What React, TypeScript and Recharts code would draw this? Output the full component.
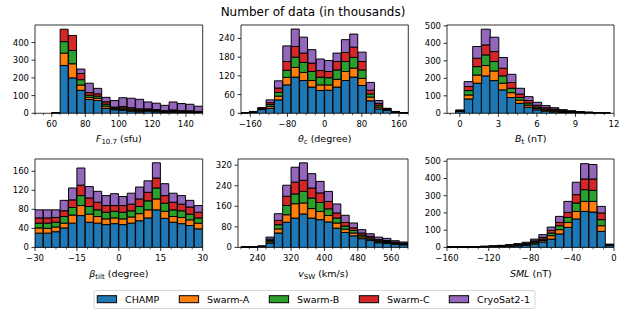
import { Bar, BarChart, ReferenceArea, XAxis, YAxis } from 'recharts'

const FONT = 'DejaVu Sans, sans-serif'

const seriesNames = ['CHAMP', 'Swarm-A', 'Swarm-B', 'Swarm-C', 'CryoSat2-1']
const seriesKeys = ['champ', 'swa', 'swb', 'swc', 'cryo']
const seriesColors = ['#1f77b4', '#ff7f0e', '#2ca02c', '#d62728', '#9467bd']

// F10.7, bins of 5 sfu
const f107Bins = [52.5, 57.5, 62.5, 67.5, 72.5, 77.5, 82.5, 87.5, 92.5, 97.5, 102.5, 107.5, 112.5, 117.5, 122.5, 127.5, 132.5, 137.5, 142.5, 147.5]
const f107Champ = [0, 0, 1.5, 270, 200, 130, 78, 72, 28, 20, 18, 12, 8, 12, 8, 5, 6, 5, 4, 4]
const f107SwA = [0, 0, 0.4, 70, 80, 30, 12, 13, 12, 5, 6, 6, 5, 4, 4, 3, 4, 3, 3, 2]
const f107SwB = [0, 0, 0.4, 65, 75, 30, 12, 12, 12, 5, 6, 6, 5, 4, 4, 3, 4, 3, 3, 2]
const f107SwC = [0, 0, 0.4, 70, 85, 35, 15, 13, 13, 5, 8, 8, 7, 5, 5, 4, 5, 4, 4, 3]
const f107Cryo = [0, 0, 0.3, 0, 0, 25, 53, 31, 25, 37, 50, 53, 54, 39, 36, 30, 45, 40, 37, 29]

// theta_c, bins of 18 degree
const thetaBins = [-171, -153, -135, -117, -99, -81, -63, -45, -27, -9, 9, 27, 45, 63, 81, 99, 117, 135, 153, 171]
const thetaChamp = [0.5, 3, 12, 16, 43, 91, 116, 105, 84, 73, 74, 84, 105, 116, 89, 40, 14, 10, 3, 0.5]
const thetaSwA = [0.1, 0.8, 1.5, 6, 12, 24, 31, 26, 21, 18, 17, 25, 29, 29, 23, 12, 6, 1.5, 0.8, 0.1]
const thetaSwB = [0.1, 0.8, 1.5, 6, 12, 23, 33, 32, 29, 25, 23, 30, 32, 34, 27, 10, 6, 1.5, 0.8, 0.1]
const thetaSwC = [0.1, 0.8, 1.5, 6, 14, 28, 34, 30, 27, 21, 20, 27, 29, 33, 27, 12, 6, 1.5, 0.8, 0.1]
const thetaCryo = [0.1, 0.6, 1.5, 9, 23, 50, 56, 51, 43, 37, 35, 27, 41, 42, 30, 25, 9, 1.5, 0.6, 0.1]

// B_t, bins of 2/3 nT
const btBins = [0, 0.667, 1.333, 2, 2.667, 3.333, 4, 4.667, 5.333, 6, 6.667, 7.333, 8, 8.667, 9.333, 10, 10.667, 11.333]
const btChamp = [10, 82, 172, 214, 187, 134, 90, 57, 35, 20, 12, 8, 5, 3, 2, 1.5, 1, 0.6]
const btSwA = [2, 23, 47, 59, 55, 38, 28, 18, 12, 8, 6, 5, 3, 2, 2, 1, 0.7, 0.6]
const btSwB = [2, 25, 48, 61, 54, 42, 25, 15, 12, 8, 6, 5, 3, 2, 2, 1, 0.7, 0.6]
const btSwC = [2, 23, 48, 57, 57, 44, 33, 20, 14, 10, 8, 6, 4, 3, 2, 1.5, 0.8, 0.6]
const btCryo = [3, 28, 67, 90, 82, 61, 47, 33, 22, 17, 12, 8, 6, 5, 2, 2, 0.8, 0.6]

// beta_tilt, bins of 3 degree
const tiltBins = [-28.5, -25.5, -22.5, -19.5, -16.5, -13.5, -10.5, -7.5, -4.5, -1.5, 1.5, 4.5, 7.5, 10.5, 13.5, 16.5, 19.5, 22.5, 25.5, 28.5]
const tiltChamp = [30, 30, 33, 41, 51, 67, 53, 51, 48, 50, 48, 51, 56, 62, 79, 61, 53, 50, 46, 39]
const tiltSwA = [11, 10, 10, 10, 17, 21, 17, 14, 12, 12, 12, 13, 15, 17, 23, 15, 12, 13, 12, 12]
const tiltSwB = [10, 11, 10, 14, 16, 21, 16, 14, 14, 14, 14, 13, 15, 19, 23, 17, 14, 14, 12, 11]
const tiltSwC = [11, 11, 10, 12, 16, 22, 18, 16, 14, 12, 14, 14, 16, 18, 21, 16, 16, 14, 15, 12]
const tiltCryo = [17, 17, 16, 22, 25, 36, 24, 23, 21, 25, 19, 23, 25, 24, 32, 25, 19, 18, 14, 14]

// v_SW, bins of 20 km/s
const vswBins = [210, 230, 250, 270, 290, 310, 330, 350, 370, 390, 410, 430, 450, 470, 490, 510, 530, 550, 570, 590]
const vswChamp = [0.5, 0.5, 3, 17, 56, 98, 114, 130, 114, 108, 99, 75, 58, 45, 34, 27, 18, 15, 12, 10]
const vswSwA = [0.1, 0.1, 0.5, 5, 16, 29, 56, 43, 37, 32, 25, 20, 13, 11, 7, 5, 4, 4, 3, 2]
const vswSwB = [0.1, 0.1, 0.5, 5, 16, 36, 38, 45, 41, 35, 26, 19, 12, 10, 7, 5, 4, 4, 3, 2]
const vswSwC = [0.1, 0.1, 0.5, 5, 17, 36, 46, 43, 39, 37, 29, 20, 14, 10, 8, 6, 5, 4, 3, 3]
const vswCryo = [0.1, 0.1, 0.5, 8, 26, 43, 58, 68, 56, 45, 39, 35, 28, 19, 13, 10, 9, 8, 5, 4]

// SML, bins of 8 nT
const smlBins = [-156, -148, -140, -132, -124, -116, -108, -100, -92, -84, -76, -68, -60, -52, -44, -36, -28, -20, -12, -4]
const smlChamp = [1, 1.2, 1.6, 2, 3, 4, 5, 7, 9, 12, 20, 32, 48, 78, 116, 165, 209, 205, 93, 10]
const smlSwA = [0.2, 0.4, 0.5, 0.6, 0.8, 1, 1.5, 2, 3, 4, 6, 8, 20, 25, 29, 44, 58, 62, 33, 2]
const smlSwB = [0.2, 0.4, 0.5, 0.6, 0.8, 1, 1.5, 2, 3, 4, 6, 8, 15, 23, 29, 49, 68, 64, 35, 2]
const smlSwC = [0.3, 0.4, 0.6, 0.8, 1, 1.3, 1.5, 2, 3, 4, 6, 10, 16, 19, 29, 48, 62, 66, 39, 2]
const smlCryo = [0.3, 0.6, 0.8, 1, 1.4, 1.7, 2.5, 3, 4, 6, 10, 16, 19, 35, 64, 72, 89, 84, 38, 3]

// minor tick positions (matplotlib AutoMinorLocator style)
const steps = (lo: number, hi: number, step: number) => {
  const out: number[] = []
  for (let v = lo; v <= hi + 1e-9; v += step) out.push(Math.round(v * 1000) / 1000)
  return out
}

const fmt = (v: number) => (v < 0 ? '\u2212' + Math.abs(v) : String(v))

type Panel = {
  id: string
  bins: number[]
  values: number[][]
  xDomain: [number, number]
  xTicks: number[]
  minor: number[]
  yMax: number
  yTicks: number[]
  left: number
  right: number
  top: number
  bottom: number
  label: React.ReactNode
}

const TOP1 = 25
const BOT1 = 113.3
const TOP2 = 159.3
const BOT2 = 247.7

const panels: Panel[] = [
  {
    id: 'f107', bins: f107Bins, values: [f107Champ, f107SwA, f107SwB, f107SwC, f107Cryo],
    xDomain: [50, 150], xTicks: [60, 80, 100, 120, 140], minor: steps(50, 150, 5),
    yMax: 499, yTicks: [0, 100, 200, 300, 400],
    left: 35, right: 202.7, top: TOP1, bottom: BOT1,
    label: (<><tspan fontStyle="italic">F</tspan><tspan dy={2} fontSize={7}>10.7</tspan><tspan dy={-2}> (sfu)</tspan></>),
  },
  {
    id: 'theta', bins: thetaBins, values: [thetaChamp, thetaSwA, thetaSwB, thetaSwC, thetaCryo],
    xDomain: [-180, 180], xTicks: [-160, -80, 0, 80, 160], minor: steps(-180, 180, 20),
    yMax: 283, yTicks: [0, 60, 120, 180, 240],
    left: 241, right: 408.3, top: TOP1, bottom: BOT1,
    label: (<><tspan fontStyle="italic">θ</tspan><tspan dy={2} fontSize={7}>c</tspan><tspan dy={-2}> (degree)</tspan></>),
  },
  {
    id: 'bt', bins: btBins, values: [btChamp, btSwA, btSwB, btSwC, btCryo],
    xDomain: [-1, 12], xTicks: [0, 3, 6, 9, 12], minor: steps(-0.75, 12, 0.75),
    yMax: 505, yTicks: [0, 100, 200, 300, 400, 500],
    left: 447.3, right: 614.3, top: TOP1, bottom: BOT1,
    label: (<><tspan fontStyle="italic">B</tspan><tspan dy={2} fontSize={7}>t</tspan><tspan dy={-2}> (nT)</tspan></>),
  },
  {
    id: 'tilt', bins: tiltBins, values: [tiltChamp, tiltSwA, tiltSwB, tiltSwC, tiltCryo],
    xDomain: [-30, 30], xTicks: [-30, -15, 0, 15, 30], minor: steps(-30, 30, 3.75),
    yMax: 186, yTicks: [0, 40, 80, 120, 160],
    left: 35, right: 202.7, top: TOP2, bottom: BOT2,
    label: (<><tspan fontStyle="italic">β</tspan><tspan dy={2} fontSize={7}>tilt</tspan><tspan dy={-2}> (degree)</tspan></>),
  },
  {
    id: 'vsw', bins: vswBins, values: [vswChamp, vswSwA, vswSwB, vswSwC, vswCryo],
    xDomain: [193, 600], xTicks: [240, 320, 400, 480, 560], minor: steps(200, 600, 20),
    yMax: 344, yTicks: [0, 80, 160, 240, 320],
    left: 238.3, right: 408.3, top: TOP2, bottom: BOT2,
    label: (<><tspan fontStyle="italic">v</tspan><tspan dy={2} fontSize={7}>SW</tspan><tspan dy={-2}> (km/s)</tspan></>),
  },
  {
    id: 'sml', bins: smlBins, values: [smlChamp, smlSwA, smlSwB, smlSwC, smlCryo],
    xDomain: [-160, 0], xTicks: [-160, -120, -80, -40, 0], minor: steps(-160, 0, 10),
    yMax: 513, yTicks: [0, 100, 200, 300, 400, 500],
    left: 447.3, right: 614.3, top: TOP2, bottom: BOT2,
    label: (<><tspan fontStyle="italic">SML</tspan><tspan> (nT)</tspan></>),
  },
]

const YW = 40
const PT = 4
const PR = 6
const XH = 22

const HistPanel = ({ p }: { p: Panel }) => {
  const w = p.right - p.left
  const h = p.bottom - p.top
  const data = p.bins.map((x, i) => {
    const row: Record<string, number> = { x }
    seriesKeys.forEach((k, s) => {
      row[k] = p.values[s][i]
    })
    return row
  })
  const allTicks = Array.from(new Set([...p.minor, ...p.xTicks])).sort((a, b) => a - b)
  const renderTick = (props: any) => {
    const { x, y, payload } = props
    const v = payload.value
    const major = p.xTicks.some((m) => Math.abs(m - v) < 1e-6)
    return (
      <g>
        <line x1={x} x2={x} y1={y} y2={y + (major ? 3.5 : 2)} stroke="#000" strokeWidth={major ? 0.8 : 0.6} />
        {major && (
          <text x={x} y={y + 13.5} textAnchor="middle" fontSize={8.5} fontFamily={FONT} fill="#000">
            {fmt(v)}
          </text>
        )}
      </g>
    )
  }
  return (
    <div style={{ position: 'absolute', left: p.left - YW, top: p.top - PT }}>
      <BarChart
        width={YW + w + PR}
        height={PT + h + XH}
        data={data}
        margin={{ top: PT, right: PR, bottom: 0, left: 0 }}
        barCategoryGap={0}
        barGap={0}
      >
        <XAxis
          type="number"
          dataKey="x"
          domain={p.xDomain}
          allowDataOverflow
          ticks={allTicks}
          interval={0}
          tickSize={0}
          tickMargin={0}
          axisLine={false}
          tickLine={false}
          height={XH}
          tick={renderTick}
        />
        <YAxis
          type="number"
          domain={[0, p.yMax]}
          allowDataOverflow
          ticks={p.yTicks}
          interval={0}
          width={YW}
          tickSize={3.5}
          tickMargin={2.5}
          axisLine={false}
          tickLine={{ stroke: '#000', strokeWidth: 0.8 }}
          tick={{ fontSize: 8.5, fill: '#000', fontFamily: FONT }}
        />
        {seriesKeys.map((k, s) => (
          <Bar
            key={k}
            dataKey={k}
            stackId="a"
            fill={seriesColors[s]}
            stroke="#000"
            strokeWidth={1}
            isAnimationActive={false}
          />
        ))}
        <ReferenceArea
          x1={p.xDomain[0]}
          x2={p.xDomain[1]}
          y1={0}
          y2={p.yMax}
          fill="none"
          fillOpacity={0}
          stroke="#000"
          strokeWidth={0.8}
        />
      </BarChart>
    </div>
  )
}

const legendHandleX = [97.3, 179.3, 269.3, 359.3, 449.3]
const legendTextX = [125, 207, 297, 387, 477]

export default function App() {
  return (
    <div style={{ position: 'absolute', left: 0, top: 0, width: 630, height: 315, background: '#fff', fontFamily: FONT }}>
      {panels.map((p) => (
        <HistPanel key={p.id} p={p} />
      ))}
      <svg width={630} height={315} style={{ position: 'absolute', left: 0, top: 0, pointerEvents: 'none' }}>
        <text x={313} y={16} textAnchor="middle" fontSize={12} fontFamily={FONT} fill="#000">
          Number of data (in thousands)
        </text>
        {panels.map((p) => (
          <text
            key={p.id}
            x={(p.left + p.right) / 2}
            y={p.bottom + 29}
            textAnchor="middle"
            fontSize={9.5}
            fontFamily={FONT}
            fill="#000"
          >
            {p.label}
          </text>
        ))}
        <rect x={94} y={290.5} width={441} height={18} rx={2} fill="#fff" stroke="#ccc" strokeWidth={0.8} />
        {seriesNames.map((name, s) => (
          <g key={name}>
            <rect x={legendHandleX[s]} y={295.7} width={19.3} height={7} fill={seriesColors[s]} stroke="#000" strokeWidth={1} />
            <text x={legendTextX[s]} y={302.7} fontSize={9.5} fontFamily={FONT} fill="#000">
              {name}
            </text>
          </g>
        ))}
      </svg>
    </div>
  )
}
